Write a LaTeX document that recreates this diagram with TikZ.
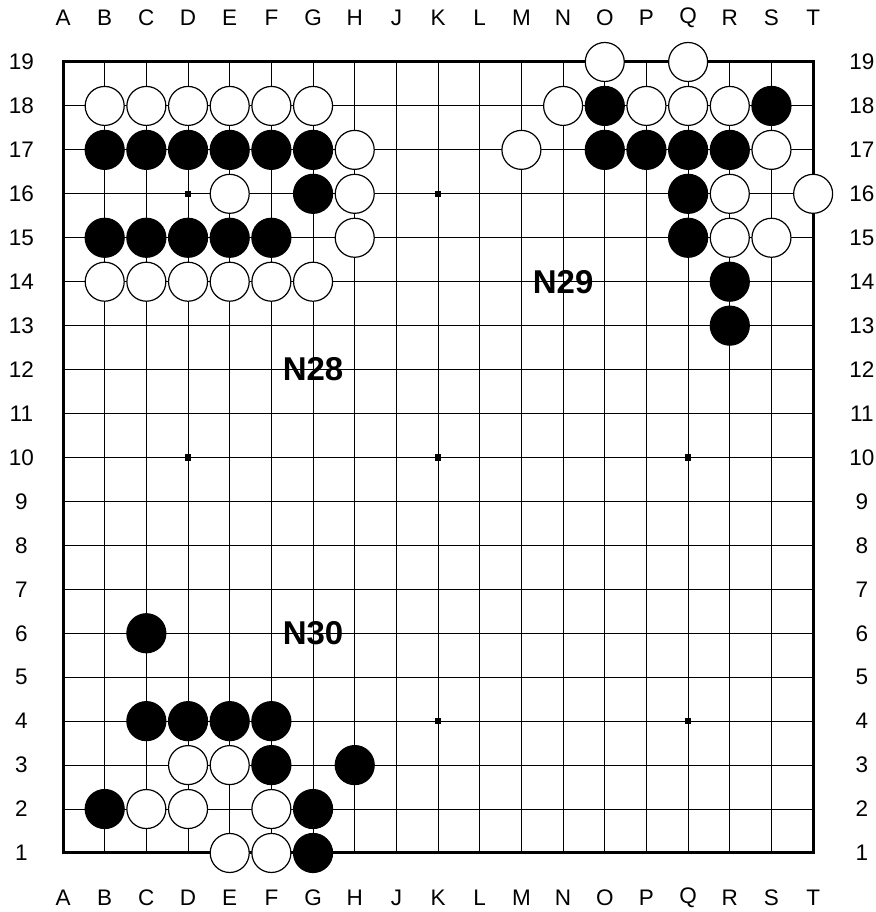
\documentclass[tikz,border=0pt]{standalone}
\usepackage{fontspec}
\setmainfont{Liberation Sans}
\begin{document}
\begin{tikzpicture}[x=41.67pt,y=43.94pt,
  gridline/.style={line width=1pt,black},
  border/.style={line width=3pt,black,line cap=rect},
  wst/.style={fill=white,draw=black,line width=1.2pt},
  bst/.style={fill=black,draw=black,line width=1.2pt},
  coordlab/.style={font=\fontsize{22.5}{22.5}\selectfont,inner sep=0pt},
  tag/.style={font=\fontsize{33}{33}\selectfont\bfseries,inner sep=0pt}]
\useasboundingbox[fill=white] (-1.512,-0.343) rectangle (19.487,20.411);
% grid
\foreach \i in {1,...,17} \draw[gridline] (\i,1) -- (\i,19);
\foreach \r in {2,...,18} \draw[gridline] (0,\r) -- (18,\r);
\draw[border] (0,1) rectangle (18,19);
% hoshi
\foreach \i in {3,9,15} \foreach \r in {4,10,16}
  \fill (\i,\r) ++(-3.3pt,-3.3pt) rectangle ++(6.6pt,6.6pt);
% labels
\foreach \l [count=\k from 0] in {A,B,C,D,E,F,G,H,J,K,L,M,N,O,P,Q,R,S,T} {
  \node[coordlab] (top\l) at (\k,20.0) {\l};
  \node[coordlab] (bot\l) at (\k,-0.024) {\l};
}
\foreach \r in {1,...,19} {
  \node[coordlab] (left\r) at (-1.0,\r) {\r};
  \node[coordlab] (right\r) at (19.17,\r) {\r};
}
% white stones
\foreach \i/\r in {1/18,2/18,3/18,4/18,5/18,6/18,7/17,4/16,7/16,7/15,
  1/14,2/14,3/14,4/14,5/14,6/14,13/19,15/19,12/18,14/18,15/18,16/18,
  11/17,17/17,16/16,18/16,16/15,17/15,3/3,4/3,2/2,3/2,5/2,4/1,5/1}
  \draw[wst] (\i,\r) circle[radius=19.5pt];
% black stones
\foreach \i/\r in {1/17,2/17,3/17,4/17,5/17,6/17,6/16,1/15,2/15,3/15,4/15,5/15,
  13/18,17/18,13/17,14/17,15/17,16/17,15/16,15/15,16/14,16/13,
  2/6,2/4,3/4,4/4,5/4,5/3,7/3,1/2,6/2,6/1}
  \draw[bst] (\i,\r) circle[radius=19.5pt];
% tags
\node[tag] (n28) at (6,12) {N28};
\node[tag] (n29) at (12,14) {N29};
\node[tag] (n30) at (6,6) {N30};
\end{tikzpicture}
\end{document}
